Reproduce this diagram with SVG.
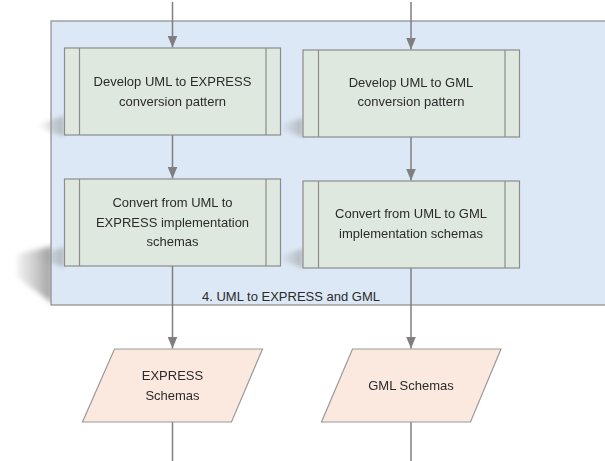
<svg xmlns="http://www.w3.org/2000/svg" width="605" height="461" viewBox="0 0 605 461">
<defs>
<style>
.box{fill:#dfe8de;stroke:#8c8c8c;stroke-width:1.2}
.bar{stroke:#8c8c8c;stroke-width:1.2}
.data{fill:#fbe9df;stroke:#9a9a9a;stroke-width:1.2}
.t{font-family:"Liberation Sans",Arial,sans-serif;font-size:13px;fill:#2b2b2b;text-anchor:middle}
.c{stroke:#7f7f7f;stroke-width:1.5;fill:none}
</style>
<marker id="ah" viewBox="0 0 12 10" refX="12" refY="5" markerWidth="12" markerHeight="10" markerUnits="userSpaceOnUse" orient="auto">
<path d="M0,0 L12,5 L0,10 Z" fill="#7f7f7f"/>
</marker>
<linearGradient id="sg" x1="1" y1="0" x2="0" y2="0">
<stop offset="0" stop-color="#9a9a9a" stop-opacity="0.95"/>
<stop offset="1" stop-color="#b0b0b0" stop-opacity="0.15"/>
</linearGradient>
<linearGradient id="sg2" x1="1" y1="0" x2="0" y2="0">
<stop offset="0" stop-color="#9a9a9a" stop-opacity="0.9"/>
<stop offset="1" stop-color="#9a9a9a" stop-opacity="0"/>
</linearGradient>
<filter id="bl" x="-50%" y="-50%" width="200%" height="200%"><feGaussianBlur stdDeviation="2.5"/></filter>
<filter id="bl2" x="-50%" y="-50%" width="200%" height="200%"><feGaussianBlur stdDeviation="2"/></filter>
</defs>
<g id="shadows">
<polygon points="52,246 17,254 17,277 52,303" fill="url(#sg)" filter="url(#bl)"/>
</g>
<g id="container">
<rect x="51" y="21" width="570" height="284" fill="#dce8f6" stroke="#8c8c8c" stroke-width="1.2"/>
<text class="t" x="291" y="301">4. UML to EXPRESS and GML</text>
</g>
<g id="box-shadows" opacity="0.7">
<polygon points="64,116 38,124 38,128 64,136" fill="url(#sg2)" filter="url(#bl2)"/>
<polygon points="303,118 280,125 280,129 303,137" fill="url(#sg2)" filter="url(#bl2)"/>
<polygon points="64,247 38,255 38,259 64,267" fill="url(#sg2)" filter="url(#bl2)"/>
<polygon points="303,249 280,256 280,260 303,268" fill="url(#sg2)" filter="url(#bl2)"/>
</g>
<g id="connectors">
<line class="c" x1="172.5" y1="2" x2="172.5" y2="47.5" marker-end="url(#ah)"/>
<line class="c" x1="411" y1="2" x2="411" y2="49.5" marker-end="url(#ah)"/>
<line class="c" x1="172.5" y1="135" x2="172.5" y2="178.5" marker-end="url(#ah)"/>
<line class="c" x1="411" y1="137" x2="411" y2="180.5" marker-end="url(#ah)"/>
<line class="c" x1="172.5" y1="266" x2="172.5" y2="348.5" marker-end="url(#ah)"/>
<line class="c" x1="411" y1="268" x2="411" y2="348.5" marker-end="url(#ah)"/>
<line class="c" x1="172.5" y1="422" x2="172.5" y2="461"/>
<line class="c" x1="411" y1="422" x2="411" y2="461"/>
</g>
<g id="n1">
<rect class="box" x="64.5" y="48" width="216" height="87"/>
<line class="bar" x1="79.5" y1="48" x2="79.5" y2="135"/>
<line class="bar" x1="266" y1="48" x2="266" y2="135"/>
<text class="t" x="172.5" y="86">Develop UML to EXPRESS</text>
<text class="t" x="172.5" y="106">conversion pattern</text>
</g>
<g id="n2">
<rect class="box" x="303" y="50" width="216.5" height="87"/>
<line class="bar" x1="318.5" y1="50" x2="318.5" y2="137"/>
<line class="bar" x1="505" y1="50" x2="505" y2="137"/>
<text class="t" x="411" y="87">Develop UML to GML</text>
<text class="t" x="411" y="106">conversion pattern</text>
</g>
<g id="n3">
<rect class="box" x="64.5" y="179" width="216" height="87"/>
<line class="bar" x1="79.5" y1="179" x2="79.5" y2="266"/>
<line class="bar" x1="266" y1="179" x2="266" y2="266"/>
<text class="t" x="172.5" y="207">Convert from UML to</text>
<text class="t" x="172.5" y="227">EXPRESS implementation</text>
<text class="t" x="172.5" y="246">schemas</text>
</g>
<g id="n4">
<rect class="box" x="303" y="181" width="216.5" height="87"/>
<line class="bar" x1="318.5" y1="181" x2="318.5" y2="268"/>
<line class="bar" x1="505" y1="181" x2="505" y2="268"/>
<text class="t" x="411" y="218">Convert from UML to GML</text>
<text class="t" x="411" y="238">implementation schemas</text>
</g>
<g id="n5">
<polygon class="data" points="114.5,349 262.5,349 231.5,422 82.5,422"/>
<text class="t" x="172.5" y="380">EXPRESS</text>
<text class="t" x="172.5" y="400">Schemas</text>
</g>
<g id="n6">
<polygon class="data" points="352.5,349 501,349 470.5,422 321.5,422"/>
<text class="t" x="411" y="390">GML Schemas</text>
</g>
</svg>
